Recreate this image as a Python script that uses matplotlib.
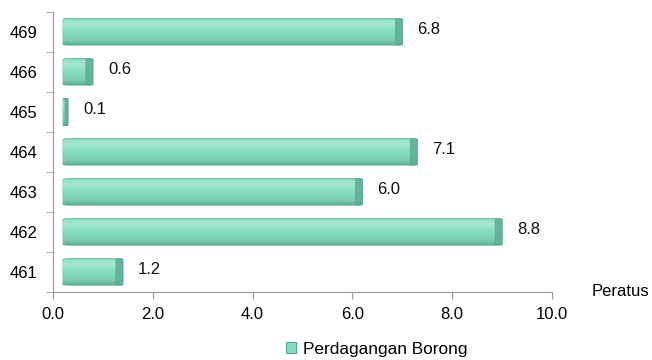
import numpy as np
import matplotlib.pyplot as plt
import matplotlib.transforms as mtransforms
from matplotlib.colors import LinearSegmentedColormap
from matplotlib.patches import FancyBboxPatch, Patch

plt.rcParams['font.family'] = ['Liberation Sans', 'DejaVu Sans']

# Data
codes = ['461', '462', '463', '464', '465', '466', '469']
values = [1.2, 8.8, 6.0, 7.1, 0.1, 0.6, 6.8]
xticks = [0.0, 2.0, 4.0, 6.0, 8.0, 10.0]

fig = plt.figure(figsize=(6.52, 3.6), dpi=100)
ax = fig.add_axes([0.0813, 0.189, 0.7653, 0.778])

face = '#84dcc1'
edge = '#5aa58d'
shade = '#5fb096'
# vertical gradient: bottom -> top
grad = LinearSegmentedColormap.from_list(
    'bar', [(0.0, '#5fae95'), (0.18, '#7ccfb5'), (0.55, '#88ddc3'),
            (0.78, '#a3e8d3'), (0.92, '#96e2cb'), (1.0, '#74c6ad')])
g = np.linspace(0, 1, 64).reshape(-1, 1)

ypos = np.arange(len(codes))
h = 0.66
# small pixel shift for the bevelled 3D look
shift = mtransforms.ScaledTranslation(10 / 100, 0, fig.dpi_scale_trans)
trans = ax.transData + shift

for y, v in zip(ypos, values):
    body = FancyBboxPatch((0, y - h / 2), v, h,
                          boxstyle='round,pad=0,rounding_size=0.1',
                          mutation_aspect=1 / 5.0,
                          facecolor=face, edgecolor=edge, linewidth=0.6,
                          transform=trans, zorder=3)
    ax.add_patch(body)
    im = ax.imshow(g, cmap=grad, origin='lower', aspect='auto',
                   extent=(0, v, y - h / 2, y + h / 2), transform=trans,
                   zorder=3.5, interpolation='bilinear')
    im.set_clip_path(body)
    # end cap
    cap = min(0.14, v * 0.6)
    capp = FancyBboxPatch((v - cap, y - h / 2), cap, h,
                          boxstyle='round,pad=0,rounding_size=0.06',
                          mutation_aspect=1 / 5.0,
                          facecolor=shade, edgecolor=edge, linewidth=0.5,
                          transform=trans, zorder=5, alpha=0.9)
    ax.add_patch(capp)
    lbl = mtransforms.offset_copy(ax.transData, fig=fig, x=25, y=0, units='dots')
    ax.text(v, y + 0.05, f'{v:.1f}', transform=lbl, va='center', ha='left',
            fontsize=12, color='#111111', zorder=6)

ax.set_xlim(0, 10)
ax.set_ylim(-0.5, len(codes) - 0.5)
ax.set_xticks(xticks)
ax.set_xticklabels([f'{t:.1f}' for t in xticks], fontsize=12)
ax.set_yticks(ypos)
ax.set_yticklabels(codes, fontsize=12)
ax.set_yticks(np.arange(-0.5, len(codes)), minor=True)
ax.tick_params(axis='y', which='major', length=0, pad=11)
ax.tick_params(axis='y', which='minor', length=5, color='#999999')
ax.tick_params(axis='x', length=5, color='#999999', pad=6, direction='out')

for s in ['top', 'right']:
    ax.spines[s].set_visible(False)
for s in ['left', 'bottom']:
    ax.spines[s].set_color('#999999')
    ax.spines[s].set_linewidth(0.8)

fig.text(0.908, 0.17, 'Peratus', fontsize=12, ha='left', va='bottom')

handle = Patch(facecolor=face, edgecolor=edge, linewidth=0.8)
fig.legend([handle], ['Perdagangan Borong'], loc='center', bbox_to_anchor=(0.578, 0.03),
           frameon=False, fontsize=12.4, handlelength=0.6, handleheight=0.6,
           handletextpad=0.4)

fig.savefig('out.png', dpi=100)
